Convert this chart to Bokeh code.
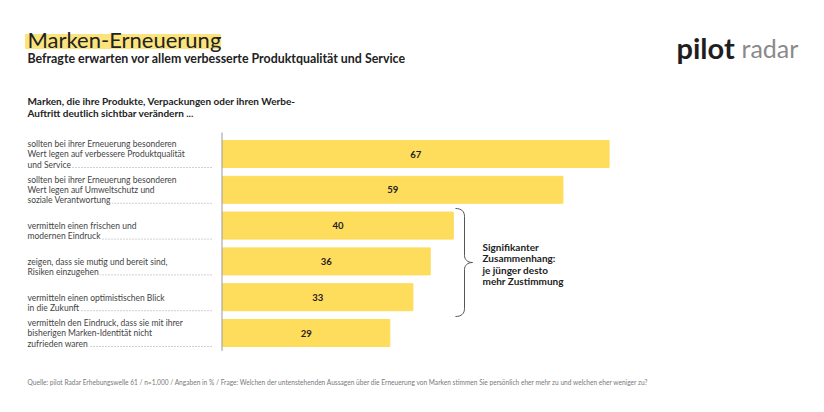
from bokeh.plotting import figure
from bokeh.models import Range1d
from bokeh.core.properties import value
from bokeh.embed import file_html
from bokeh.resources import INLINE

# ---------------- data ----------------
categories = [
    "sollten bei ihrer Erneuerung besonderen\nWert legen auf verbessere Produktqualität\nund Service",
    "sollten bei ihrer Erneuerung besonderen\nWert legen auf Umweltschutz und\nsoziale Verantwortung",
    "vermitteln einen frischen und\nmodernen Eindruck",
    "zeigen, dass sie mutig und bereit sind,\nRisiken einzugehen",
    "vermitteln einen optimistischen Blick\nin die Zukunft",
    "vermitteln den Eindruck, dass sie mit ihrer\nbisherigen Marken-Identität nicht\nzufrieden waren",
]
values = [67, 59, 40, 36, 33, 29]

title = "Marken-Erneuerung"
subtitle = "Befragte erwarten vor allem verbesserte Produktqualität und Service"
heading = ["Marken, die ihre Produkte, Verpackungen oder ihren Werbe-",
           "Auftritt deutlich sichtbar verändern ..."]
note = ["Signifikanter", "Zusammenhang:", "je jünger desto", "mehr Zustimmung"]
source = ("Quelle: pilot Radar Erhebungswelle 61 / n=1.000 / Angaben in % / Frage: Welchen der "
          "untenstehenden Aussagen über die Erneuerung von Marken stimmen Sie persönlich eher "
          "mehr zu und welchen eher weniger zu?")

FONT = value("Lato")
BAR = "#FEDC5C"
DARK = "#222222"

W, H = 808, 396
p = figure(width=W, height=H, x_range=Range1d(0, W), y_range=Range1d(H, 0),
           x_axis_type=None, y_axis_type=None, toolbar_location=None,
           output_backend="svg", min_border=0, outline_line_color=None)
p.grid.visible = False
p.background_fill_color = "white"
p.border_fill_color = "white"

# value scale: 0 at x 222, 5.77 px per unit ; rows pitch 35.8 px, row 0 centre at y 153.5
PX_PER_UNIT = 5.77
X0 = 222
PITCH = 35.8
Y0 = 153.5
p.extra_x_ranges = {"val": Range1d(-X0 / PX_PER_UNIT, (W - X0) / PX_PER_UNIT)}
p.extra_y_ranges = {"row": Range1d((H - Y0) / PITCH, -Y0 / PITCH)}

rows = list(range(len(values)))

# bars
p.hbar(y=rows, left=0, right=values, height=0.755, color=BAR,
       x_range_name="val", y_range_name="row")
p.text(x=[v / 2 for v in values], y=rows, text=[str(v) for v in values],
       x_range_name="val", y_range_name="row", text_align="center",
       text_baseline="middle", text_font=FONT, text_font_style="bold",
       text_font_size="9.5px", text_color=DARK)

# axis line
p.segment(x0=[221.5], x1=[221.5], y0=[-0.6], y1=[5.5], line_color="#999999",
          line_width=1, y_range_name="row")

# category labels with dotted leaders
ux, uy, ut = [], [], []   # upper lines
lx, ly, lt = [], [], []   # last lines (leader attached)
dot_y = []
for i, cat in enumerate(categories):
    lines = cat.split("\n")
    n = len(lines)
    for k, line in enumerate(lines):
        yy = i + (10.5 - (n - 1 - k) * 10.2) / PITCH
        if k == n - 1:
            lx.append(26); ly.append(yy); lt.append(line)
        else:
            ux.append(27); uy.append(yy); ut.append(line)
    dot_y.append(i + 13.5 / PITCH)
p.segment(x0=[27] * len(dot_y), x1=[213] * len(dot_y), y0=dot_y, y1=dot_y,
          line_color="#999999", line_width=0.9, line_dash="1 2", y_range_name="row")
p.text(x=lx, y=ly, text=lt, y_range_name="row", text_align="left",
       text_baseline="middle", text_font=FONT, text_font_size="8.5px",
       text_color="#444444", background_fill_color="white", padding=1)
p.text(x=ux, y=uy, text=ut, y_range_name="row", text_align="left",
       text_baseline="middle", text_font=FONT, text_font_size="8.5px",
       text_color="#444444")

# title with highlight
p.quad(left=[25], right=[220], top=[34], bottom=[48], color="#FCE47C")
p.text(x=[27], y=[39], text=[title], text_font=FONT, text_font_size="22px",
       text_color=DARK, text_baseline="middle")
p.text(x=[27], y=[58], text=[subtitle], text_font=FONT, text_font_size="12.4px",
       text_font_style="bold", text_color=DARK, text_baseline="middle")
p.text(x=[27, 27], y=[100, 112], text=heading, text_font=FONT, text_font_size="10px",
       text_font_style="bold", text_color=DARK, text_baseline="middle")

# logo
p.text(x=[676], y=[47], text=["pilot"], text_font=FONT, text_font_size="29px",
       text_font_style="bold", text_color="#1e1e1e", text_baseline="alphabetic")
p.text(x=[741], y=[47], text=["radar"], text_font=FONT, text_font_size="25px",
       text_color="#8a8a8a", text_baseline="alphabetic")

# brace
bx0, bx1, bx2 = 455, 464, 472
p.bezier(x0=[bx0, bx1, bx2, bx1], y0=[208, 255, 262, 308],
         x1=[bx1, bx2, bx1, bx0], y1=[216, 262, 269, 316],
         cx0=[461, bx1, 467, bx1], cy0=[208, 259, 262, 313],
         cx1=[bx1, 467, bx1, 461], cy1=[211, 262, 265, 316],
         line_color="#555555", line_width=1)
p.segment(x0=[bx1, bx1], x1=[bx1, bx1], y0=[216, 269], y1=[255, 308],
          line_color="#555555", line_width=1)
p.text(x=[482] * 4, y=[246, 257.5, 269, 280.5], text=note, text_font=FONT,
       text_font_size="10px", text_font_style="bold", text_color=DARK,
       text_baseline="middle")

# source
p.text(x=[27], y=[381], text=[source], text_font=FONT, text_font_size="6.6px",
       text_color="#7a7a7a", text_baseline="middle")

open("out.html", "w").write(file_html(p, INLINE))
